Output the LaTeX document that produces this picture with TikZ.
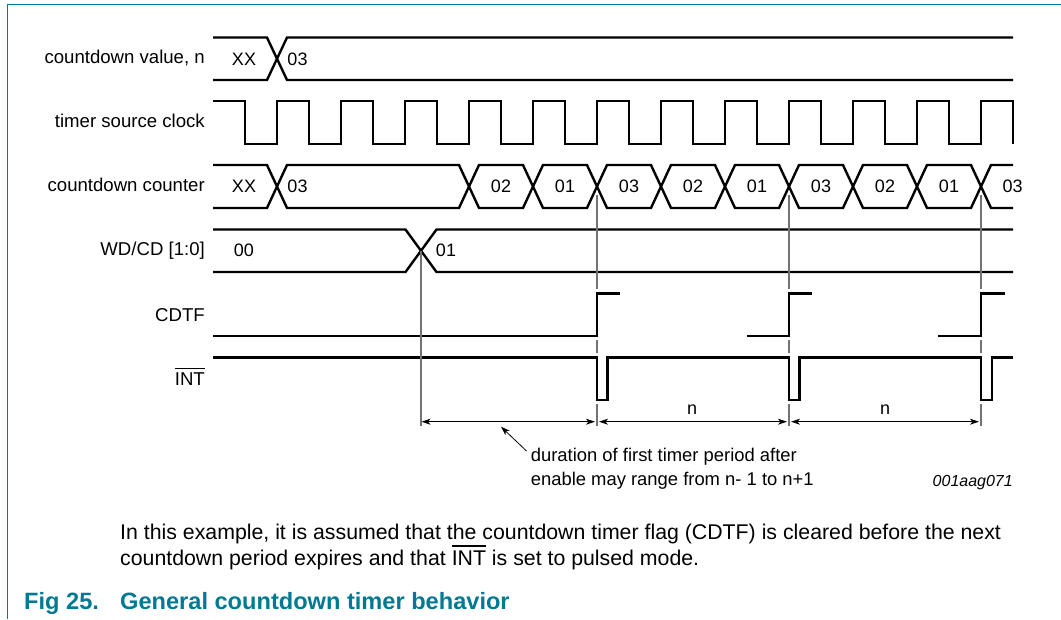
\documentclass[tikz,border=0pt]{standalone}
\usepackage{fontspec}
\setmainfont{Liberation Sans}
\usepackage{tikz}
\usetikzlibrary{arrows.meta,positioning}
\definecolor{nxpteal}{RGB}{0,122,147}
\newcommand{\invbar}[3]{\vbox{\hrule height #1\kern#2\hbox{#3}}}
\tikzset{
    %Define standard arrow tip
    >={Stealth[length=9pt,width=6pt,inset=2.5pt]},
    %Define style for signal traces
    wave/.style={
           draw=black,
           line width=2.4pt,
           miter limit=4},
    %Define style for texts
    siglabel/.style={
           anchor=base east,
           inner sep=0pt,
           font=\fontsize{18.6}{18.6}\selectfont},
    busvalue/.style={
           anchor=base,
           inner sep=0pt,
           font=\fontsize{18}{18}\selectfont},
    note/.style={
           anchor=base west,
           inner sep=0pt,
           font=\fontsize{18.4}{18.4}\selectfont},
    remark/.style={
           anchor=base west,
           inner sep=0pt,
           font=\fontsize{21.3}{21.3}\selectfont},
    figtitle/.style={
           anchor=base west,
           inner sep=0pt,
           text=nxpteal,
           font=\fontsize{23.6}{23.6}\selectfont\bfseries},
    % Define marker and arrow styles
    marker/.style={
           draw=black!55,
           line width=1.05pt},
    span/.style={
           <->,
           draw=black,
           line width=0.9pt}
}
\begin{document}
\begin{tikzpicture}[x=1pt,y=-1pt]
\useasboundingbox (0,0) rectangle (1061,619);
 %frame
\draw[nxpteal,line width=1.2pt] (7.4,619) -- (7.4,4.7) -- (1061,4.7);
 %signal names
\node[siglabel](lblvalue) at (205,63.3){countdown value, n};
\node[siglabel](lblclock) at (205,127){timer source clock};
\node[siglabel](lblcounter) at (205,191){countdown counter};
\node[siglabel](lblwdcd) at (205,255.3){WD/CD [1:0]};
\node[siglabel](lblcdtf) at (205,321){CDTF};
\node[siglabel](lblint) at (205,385){\invbar{0.8pt}{3pt}{INT}};
 %traces
\draw[wave] (213,37.5) -- (267,37.5) -- (287,80) -- (1013,80);
\draw[wave] (213,80) -- (267,80) -- (287,37.5) -- (1013,37.5);
\draw[wave] (213,101) -- (245,101) -- (245,144) -- (277,144) -- (277,101) -- (309,101) -- (309,144) -- (341,144) -- (341,101) -- (373,101) -- (373,144) -- (405,144) -- (405,101) -- (437,101) -- (437,144) -- (469,144) -- (469,101) -- (501,101) -- (501,144) -- (533,144) -- (533,101) -- (565,101) -- (565,144) -- (597,144) -- (597,101) -- (629,101) -- (629,144) -- (661,144) -- (661,101) -- (693,101) -- (693,144) -- (725,144) -- (725,101) -- (757,101) -- (757,144) -- (789,144) -- (789,101) -- (821,101) -- (821,144) -- (853,144) -- (853,101) -- (885,101) -- (885,144) -- (917,144) -- (917,101) -- (949,101) -- (949,144) -- (981,144) -- (981,101) -- (1013,101) -- (1013,144);
\draw[wave] (213,165) -- (267,165) -- (287,208) -- (459,208) -- (479,165) -- (523,165) -- (543,208) -- (587,208) -- (607,165) -- (651,165) -- (671,208) -- (715,208) -- (735,165) -- (779,165) -- (799,208) -- (843,208) -- (863,165) -- (907,165) -- (927,208) -- (971,208) -- (991,165) -- (1013,165);
\draw[wave] (213,208) -- (267,208) -- (287,165) -- (459,165) -- (479,208) -- (523,208) -- (543,165) -- (587,165) -- (607,208) -- (651,208) -- (671,165) -- (715,165) -- (735,208) -- (779,208) -- (799,165) -- (843,165) -- (863,208) -- (907,208) -- (927,165) -- (971,165) -- (991,208) -- (1013,208);
\draw[wave] (213,229.5) -- (405.5,229.5) -- (436.5,272) -- (1013,272);
\draw[wave] (213,272) -- (405.5,272) -- (436.5,229.5) -- (1013,229.5);
\draw[wave] (213,336) -- (597,336) -- (597,293.5) -- (620,293.5);
\draw[wave] (746.5,336) -- (789,336) -- (789,293.5) -- (812,293.5);
\draw[wave] (938,336) -- (981,336) -- (981,293.5) -- (1004.5,293.5);
\draw[wave] (213,357.5) -- (597,357.5) -- (597,400) -- (607.5,400) -- (607.5,357.5) -- (789,357.5) -- (789,400) -- (799.5,400) -- (799.5,357.5) -- (981,357.5) -- (981,400) -- (992,400) -- (992,357.5) -- (1012.5,357.5);
 %bus values
\node[busvalue](xxvalue) at (244,65){XX};
\node[busvalue](valuefirst) at (297.5,65){03};
\node[busvalue](xxcounter) at (244,192.7){XX};
\node[busvalue](countfirst) at (297.5,192.7){03};
\node[busvalue](counta) at (501,192.7){02};
\node[busvalue](countb) at (565,192.7){01};
\node[busvalue](countc) at (629,192.7){03};
\node[busvalue](countd) at (693,192.7){02};
\node[busvalue](counte) at (757,192.7){01};
\node[busvalue](countf) at (821,192.7){03};
\node[busvalue](countg) at (885,192.7){02};
\node[busvalue](counth) at (949,192.7){01};
\node[busvalue](counti) at (1012.6,192.7){03};
\node[busvalue](wdold) at (244,256.7){00};
\node[busvalue](wdnew) at (446,256.7){01};
 %marker lines
\coordinate (enable) at (421,250.7);
\coordinate (enableend) at (421,425.7);
\coordinate (tika) at (597,195);
\coordinate (tikb) at (789,195);
\coordinate (tikc) at (981,195);
\draw[marker] (enable) -- (enableend);
\draw[marker] (tika) -- (597,288.7) (597,340) -- (597,353) (597,403.5) -- (597,425.7);
\draw[marker] (tikb) -- (789,288.7) (789,340) -- (789,353) (789,403.5) -- (789,425.7);
\draw[marker] (tikc) -- (981,288.7) (981,340) -- (981,353) (981,403.5) -- (981,425.7);
 %spans
\coordinate (spana) at (421.5,421.7);
\coordinate (spanb) at (595,421.7);
\coordinate (spanc) at (599,421.7);
\coordinate (spand) at (787,421.7);
\coordinate (spane) at (791,421.7);
\coordinate (spanf) at (979,421.7);
\draw[span] (spana) -- (spanb);
\draw[span] (spanc) -- (spand);
\draw[span] (spane) -- (spanf);
\node[busvalue](spann) at (692,414.5){n};
\node[busvalue](spanm) at (885,414.5){n};
\node[note](durationa) at (530.7,461.5){duration of first timer period after};
\node[note](durationb) at (530.7,485){enable may range from n- 1 to n+1};
\coordinate (pointer) at (501,426.7);
\coordinate (pointerend) at (526.5,451);
\draw[->,line width=0.8pt] (pointerend) -- (pointer);
\node[anchor=base east,inner sep=0pt,font=\fontsize{16}{16}\selectfont\itshape](figcode) at (1013,486){001aag071};
 %remark and caption
\node[remark](remarka) at (120,539){In this example, it is assumed that the countdown timer flag (CDTF) is cleared before the next};
\node[remark](remarkb) at (120,565.5){countdown period expires and that \invbar{1.6pt}{4pt}{INT} is set to pulsed mode.};
\node[figtitle](caption) at (24,609){Fig 25.};
\node[figtitle](captiontext) at (120,609){General countdown timer behavior};
\end{tikzpicture}
\end{document}
